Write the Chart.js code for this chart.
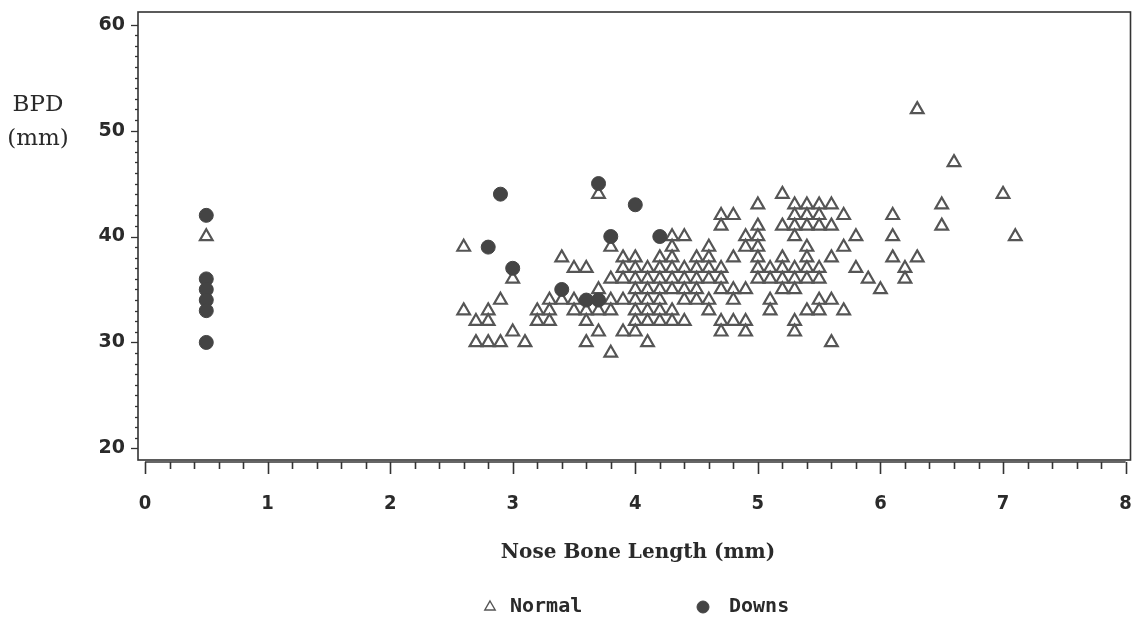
<!DOCTYPE html>
<html lang="en">

<head>
  <meta charset="UTF-8">
  <title>BPD vs Nose Bone Length</title>
  <script src="https://cdn.jsdelivr.net/npm/chart.js@4.4.0/dist/chart.umd.min.js"></script>
  <style>
    html, body { margin: 0; padding: 0; background: #fff; overflow: hidden; }
    canvas { display: block; }
  </style>
</head>

<body>
  <canvas id="scatter" width="1140" height="617"></canvas>

  <script>
    const normalBpd = [52, 47, 44, 43, 42, 41, 40, 39, 38, 37, 36, 35, 34, 33, 32, 31, 30, 29];
    const normalLength = [
      [6.3],
      [6.6],
      [3.7, 5.2, 7.0],
      [5.0, 5.3, 5.4, 5.5, 5.6, 6.5],
      [4.7, 4.8, 5.3, 5.4, 5.5, 5.7, 6.1],
      [4.7, 5.0, 5.2, 5.3, 5.4, 5.5, 5.6, 6.5],
      [0.5, 4.3, 4.4, 4.9, 5.0, 5.3, 5.8, 6.1, 7.1],
      [2.6, 3.8, 4.3, 4.6, 4.9, 5.0, 5.4, 5.7],
      [3.4, 3.9, 4.0, 4.2, 4.3, 4.5, 4.6, 4.8, 5.0, 5.2, 5.4, 5.6, 6.1, 6.3],
      [3.5, 3.6, 3.9, 4.0, 4.1, 4.2, 4.3, 4.4, 4.5, 4.6, 4.7, 5.0, 5.1, 5.2, 5.3, 5.4, 5.5, 5.8, 6.2],
      [3.0, 3.8, 3.9, 4.0, 4.1, 4.2, 4.3, 4.4, 4.5, 4.6, 4.7, 5.0, 5.1, 5.2, 5.3, 5.4, 5.5, 5.9, 6.2],
      [3.7, 4.0, 4.1, 4.2, 4.3, 4.4, 4.5, 4.7, 4.8, 4.9, 5.2, 5.3, 6.0],
      [2.9, 3.3, 3.4, 3.5, 3.8, 3.9, 4.0, 4.1, 4.2, 4.4, 4.5, 4.6, 4.8, 5.1, 5.5, 5.6],
      [2.6, 2.8, 3.2, 3.3, 3.5, 3.6, 3.7, 3.8, 4.0, 4.1, 4.2, 4.3, 4.6, 5.1, 5.4, 5.5, 5.7],
      [2.7, 2.8, 3.2, 3.3, 3.6, 4.0, 4.1, 4.2, 4.3, 4.4, 4.7, 4.8, 4.9, 5.3],
      [3.0, 3.7, 3.9, 4.0, 4.7, 4.9, 5.3],
      [2.7, 2.8, 2.9, 3.1, 3.6, 4.1, 5.6],
      [3.8]
    ];

    const downsLength = [0.5, 0.5, 0.5, 0.5, 0.5, 0.5, 2.8, 2.9, 3.0, 3.4, 3.6, 3.7, 3.7, 3.8, 4.0, 4.2];
    const downsBpd    = [42, 36, 35, 34, 33, 30, 39, 44, 37, 35, 34, 34, 45, 40, 43, 40];

    const xTicks = [0, 1, 2, 3, 4, 5, 6, 7, 8];
    const yTicks = [20, 30, 40, 50, 60];

    const normalPoints = [];
    normalBpd.forEach((bpd, i) => {
      normalLength[i].forEach(len => normalPoints.push({ x: len, y: bpd }));
    });
    const downsPoints = downsLength.map((len, i) => ({ x: len, y: downsBpd[i] }));

    const ink = '#333';

    // keep the tick labels from pushing the plot area in
    function noPad(s) {
      s.paddingLeft = 0;
      s.paddingRight = 0;
      s.paddingTop = 0;
      s.paddingBottom = 0;
    }

    // frame, offset x axis with minor ticks, and the loose texts
    const framePlugin = {
      id: 'frame',
      beforeDatasetsDraw(chart) {
        const { ctx, chartArea: a, scales: { x, y } } = chart;
        ctx.save();
        ctx.strokeStyle = ink;
        ctx.lineWidth = 1.6;
        ctx.strokeRect(a.left, a.top, a.right - a.left, a.bottom - a.top);

        ctx.lineWidth = 1.3;
        for (let v = 20; v <= 60; v++) {
          const py = Math.round(y.getPixelForValue(v)) + 0.5;
          const len = v % 10 === 0 ? 7 : 3;
          ctx.beginPath();
          ctx.moveTo(a.left - len, py);
          ctx.lineTo(a.left, py);
          ctx.stroke();
        }

        const base = a.bottom + 2;
        ctx.lineWidth = 1.6;
        ctx.beginPath();
        ctx.moveTo(x.getPixelForValue(0), base);
        ctx.lineTo(x.getPixelForValue(8), base);
        ctx.stroke();
        for (let i = 0; i <= 40; i++) {
          const px = Math.round(x.getPixelForValue(i / 5)) + 0.5;
          const len = i % 5 === 0 ? 12 : 7;
          ctx.beginPath();
          ctx.moveTo(px, base);
          ctx.lineTo(px, base + len);
          ctx.stroke();
        }
        ctx.restore();
      },
      afterDraw(chart) {
        const { ctx } = chart;
        ctx.save();
        ctx.fillStyle = '#2a2a2a';
        ctx.textAlign = 'center';
        ctx.textBaseline = 'middle';
        ctx.font = '23px "DejaVu Serif"';
        ctx.fillText('BPD', 38, 105);
        ctx.fillText('(mm)', 38, 139);

        ctx.font = 'bold 20px "DejaVu Serif"';
        ctx.fillText('Nose Bone Length (mm)', 638, 553);

        // legend
        const ds = chart.data.datasets;
        const items = [{ d: ds[0], px: 490, tx: 510 }, { d: ds[1], px: 703, tx: 729 }];
        ctx.font = 'bold 20px "DejaVu Sans Mono"';
        ctx.textAlign = 'left';
        items.forEach(it => {
          ctx.strokeStyle = it.d.borderColor;
          ctx.fillStyle = it.d.backgroundColor;
          ctx.lineWidth = it.d.pointStyle === 'triangle' ? 1.4 : 1;
          Chart.helpers.drawPoint(ctx, {
            pointStyle: it.d.pointStyle,
            radius: 6,
            rotation: 0,
            borderWidth: 1
          }, it.px, 607);
          ctx.fillStyle = '#2a2a2a';
          ctx.fillText(it.d.label, it.tx, 607);
        });
        ctx.restore();
      }
    };

    new Chart(document.getElementById('scatter'), {
      type: 'scatter',
      data: {
        datasets: [
          {
            label: 'Normal',
            data: normalPoints,
            pointStyle: 'triangle',
            pointRadius: 7.3,
            borderWidth: 2.2,
            borderColor: '#555',
            backgroundColor: 'rgba(255,255,255,0)',
            order: 1
          },
          {
            label: 'Downs',
            data: downsPoints,
            pointStyle: 'circle',
            pointRadius: 7,
            borderWidth: 1,
            borderColor: '#444',
            backgroundColor: '#444',
            order: 0
          }
        ]
      },
      options: {
        responsive: false,
        animation: false,
        layout: { padding: { top: 12, right: 3, left: 0, bottom: 0 } },
        plugins: {
          legend: { display: false },
          tooltip: { enabled: false }
        },
        scales: {
          x: {
            type: 'linear',
            min: -0.057,
            max: 8.04,
            afterBuildTicks: s => { s.ticks = xTicks.map(v => ({ value: v })); },
            afterFit: s => { s.height = 157; noPad(s); },
            grid: { display: false, drawTicks: false },
            border: { display: false },
            ticks: {
              padding: 32,
              maxRotation: 0,
              color: '#2a2a2a',
              font: { family: '"Liberation Sans Narrow", "DejaVu Sans Condensed", sans-serif', size: 20, weight: 'bold' }
            }
          },
          y: {
            type: 'linear',
            min: 18.9,
            max: 61.2,
            afterBuildTicks: s => { s.ticks = yTicks.map(v => ({ value: v })); },
            afterFit: s => { s.width = 138; noPad(s); },
            grid: { display: false, drawTicks: false },
            border: { display: false },
            ticks: {
              padding: 13,
              color: '#2a2a2a',
              font: { family: '"DejaVu Sans", sans-serif', size: 19, weight: 'bold' }
            }
          }
        }
      },
      plugins: [framePlugin]
    });
  </script>
</body>

</html>
